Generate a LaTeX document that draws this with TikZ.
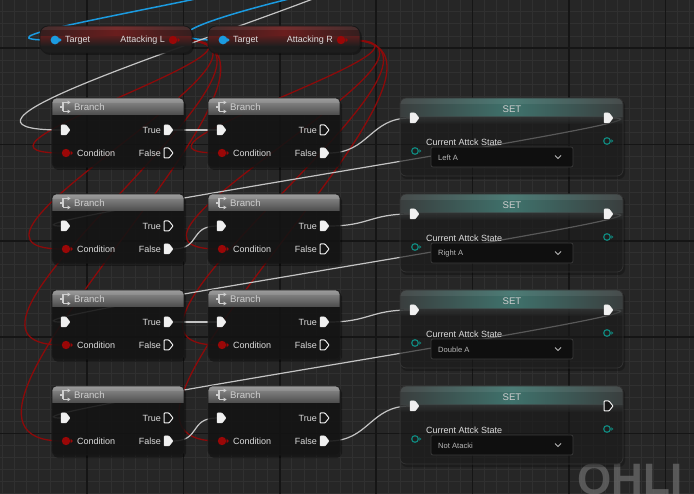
\documentclass[tikz,border=0pt]{standalone}
\usepackage{fontspec}
\setmainfont{Liberation Sans}
\usetikzlibrary{calc}
\definecolor{bgc}{HTML}{262626}
\definecolor{minorc}{HTML}{303030}
\definecolor{majorc}{HTML}{151515}
\definecolor{bodyc}{HTML}{151515}
\definecolor{setbodyc}{HTML}{202020}
\definecolor{hdrtop}{HTML}{929292}
\definecolor{hdrbot}{HTML}{4C4C4C}
\definecolor{redwire}{HTML}{8C0A0A}
\definecolor{boolc}{HTML}{9A0707}
\definecolor{graywire}{HTML}{C4C4C4}
\definecolor{bluewire}{HTML}{1B9BE0}
\definecolor{tealc}{HTML}{10877E}
\definecolor{pinwhite}{HTML}{F0F0F0}
\definecolor{labelc}{HTML}{DCDCDC}
\definecolor{titlec}{HTML}{CFCFCF}
\definecolor{ddfill}{HTML}{0F0F0F}
\definecolor{ddborder}{HTML}{3A3A3A}
\definecolor{ddtext}{HTML}{B8B8B8}
\definecolor{getred}{HTML}{6A1E1E}
\definecolor{getdark}{HTML}{1E1E1E}
\definecolor{tealglow}{HTML}{3F726C}
\definecolor{tealside}{HTML}{3A3E3E}
\definecolor{wmark}{HTML}{6A6A6A}
\pgfdeclarelayer{bg}
\pgfdeclarelayer{wires}
\pgfsetlayers{bg,wires,main}
\tikzset{
  lbl/.style={text=labelc,font=\fontsize{9}{10}\selectfont,inner sep=0pt},
  ttl/.style={text=titlec,font=\fontsize{9.6}{11}\selectfont,inner sep=0pt},
  ddtxt/.style={text=ddtext,font=\fontsize{7.6}{9}\selectfont,inner sep=0pt},
  execon/.style={fill=pinwhite,draw=pinwhite,line width=0.5pt,rounded corners=0.8pt},
  execoff/.style={draw=pinwhite,line width=1pt,fill=bodyc,rounded corners=0.8pt},
  redw/.style={draw=redwire,line width=1.3pt},
  grayw/.style={draw=graywire,line width=1.2pt},
  bluew/.style={draw=bluewire,line width=1.5pt},
  nodeedge/.style={draw=black!90,line width=0.8pt,rounded corners=4pt},
}
\newcommand\ExecPin[3]{\draw[#3,shift={(#1,#2)}] (-4,-5) -- (1,-5) -- (5,0) -- (1,5) -- (-4,5) -- cycle;}
\newcommand\BoolPin[2]{\fill[boolc,shift={(#1,#2)}] (0,0) circle (4.2) (4.6,-2.2) -- (7,0) -- (4.6,2.2) -- cycle;}
\newcommand\TealPin[2]{\draw[tealc,line width=1.2pt,shift={(#1,#2)}] (0,0) circle (3.3); \fill[tealc,shift={(#1,#2)}] (4.3,-1.8) -- (6.3,0) -- (4.3,1.8) -- cycle;}
% Branch node: name, left, top, true style, false style
\newcommand\BranchNode[5]{%
\begin{scope}[shift={(#2,#3)}]
  \fill[black,opacity=0.35,rounded corners=5pt] (1,2) rectangle (134,72);
  \node[fill=bodyc,fill opacity=0.84,rounded corners=4pt,minimum width=132pt,minimum height=69pt,inner sep=0pt] (#1) at (66,34.5) {};
  \begin{scope}
    \clip[rounded corners=4pt] (0,0) rectangle (132,69);
    \shade[top color=hdrtop,bottom color=hdrbot] (0,0) rectangle (132,17);
    \fill[white,opacity=0.10] (0,0) rectangle (132,5);
  \end{scope}
  \draw[nodeedge] (0,0) rectangle (132,69);
  % branch icon
  \draw[titlec,line width=1.1pt] (8,9) -- (11,9) (11,4.5) -- (11,13.5) (11,4.5) -- (16,4.5) (11,13.5) -- (16,13.5);
  \fill[titlec] (15.5,2.5) -- (18.5,4.5) -- (15.5,6.5) -- cycle (15.5,11.5) -- (18.5,13.5) -- (15.5,15.5) -- cycle;
  \node[ttl,anchor=west] at (22,9.2) {Branch};
  \ExecPin{13}{32}{execon}
  \BoolPin{14}{55}
  \node[lbl,anchor=west] at (25,55.3) {Condition};
  \node[lbl,anchor=east] at (109,32.3) {True};
  \node[lbl,anchor=east] at (109,55.3) {False};
  \ExecPin{116}{32}{#4}
  \ExecPin{116}{55}{#5}
  \coordinate (#1-in) at (9,32);
  \coordinate (#1-cond) at (10,55);
  \coordinate (#1-t) at (121,32);
  \coordinate (#1-f) at (121,55);
\end{scope}}
% SET node: name, top, value, out style
\newcommand\SetNode[4]{%
\begin{scope}[shift={(400,#2)}]
  \fill[black,opacity=0.25,rounded corners=6pt] (1,2) rectangle (225,81);
  \node[fill=setbodyc,fill opacity=0.5,rounded corners=6pt,minimum width=223pt,minimum height=78pt,inner sep=0pt] (#1) at (111.5,39) {};
  \begin{scope}
    \clip[rounded corners=6pt] (0,0) rectangle (223,78);
    \shade[left color=tealside,right color=tealside,middle color=tealglow] (0,0) rectangle (223,19);
    \shade[top color=tealside,bottom color=setbodyc,opacity=0.6] (0,19) rectangle (223,26);
    \fill[white,opacity=0.07] (0,0) rectangle (223,6);
  \end{scope}
  \draw[nodeedge,rounded corners=6pt,draw=black!80] (0,0) rectangle (223,78);
  \node[ttl,anchor=center] at (112,11) {SET};
  \ExecPin{14}{20}{execon}
  \ExecPin{208}{20}{#4}
  \node[lbl,anchor=west] at (26,44.5) {Current Attck State};
  \TealPin{15}{53}
  \TealPin{207}{43}
  \draw[fill=ddfill,draw=ddborder,line width=0.7pt,rounded corners=2pt] (31,49) rectangle (173,69);
  \node[ddtxt,anchor=west] at (38,59.3) {#3};
  \draw[ddtext,line width=0.9pt] (155,57.5) -- (158,60.5) -- (161,57.5);
  \coordinate (#1-in) at (10,20);
  \coordinate (#1-out) at (213,20);
\end{scope}}
% Getter node: name, left, label
\newcommand\GetNode[3]{%
\begin{scope}[shift={(#2,26)}]
  \fill[black,opacity=0.35,rounded corners=9pt] (1,2) rectangle (154,29);
  \node[fill=getdark,fill opacity=0.92,rounded corners=8pt,minimum width=152pt,minimum height=27pt,inner sep=0pt] (#1) at (76,13.5) {};
  \begin{scope}
    \clip[rounded corners=8pt] (0,0) rectangle (152,27);
    \shade[left color=getdark!70!getred,right color=getdark!70!getred,middle color=getred] (0,0) rectangle (152,11);
    \shade[top color=getred!70!getdark,bottom color=getdark] (0,11) rectangle (152,20);
    \fill[white,opacity=0.07] (0,0) rectangle (152,4);
  \end{scope}
  \draw[nodeedge,rounded corners=8pt] (0,0) rectangle (152,27);
  \fill[bluewire] (15,14) circle (4.4) (19.4,-2.2+14) -- (21.6,14) -- (19.4,2.2+14) -- cycle;
  \node[lbl,anchor=west] at (25,14.3) {Target};
  \node[lbl,anchor=east] at (125,14.3) {#3};
  \BoolPin{133}{14}
  \coordinate (#1-tgt) at (10,14);
  \coordinate (#1-out) at (140,14);
\end{scope}}
\begin{document}
\begin{tikzpicture}[x=1pt,y=-1pt]
\useasboundingbox (0,0) rectangle (694,494);
\begin{pgfonlayer}{bg}
  \fill[bgc] (0,0) rectangle (694,494);
  \foreach \i in {-1,...,58} {\draw[minorc,line width=0.8pt] (14.7+\i*12.05,0) -- (14.7+\i*12.05,494);}
  \foreach \i in {-1,...,42} {\draw[minorc,line width=0.8pt] (0,11.85+\i*12.05) -- (694,11.85+\i*12.05);}
  \foreach \i in {-1,...,7} {\draw[majorc,line width=1.6pt] (87+\i*96.4,0) -- (87+\i*96.4,494);}
  \foreach \i in {-1,...,5} {\draw[majorc,line width=1.6pt] (0,48+\i*96.4) -- (694,48+\i*96.4);}
  \begin{scope}
    \clip (0,0) rectangle (694,494);
    \node[anchor=base west,inner sep=0pt,text=wmark,text opacity=0.75,font=\fontsize{44}{44}\bfseries\selectfont] (wm) at (577,494.5) {OHLI};
  \end{scope}
\end{pgfonlayer}

\GetNode{getL}{40}{Attacking L}
\GetNode{getR}{208}{Attacking R}

\BranchNode{b1a}{52}{98}{execon}{execoff}
\BranchNode{b1b}{208}{98}{execoff}{execon}
\BranchNode{b2a}{52}{194}{execoff}{execon}
\BranchNode{b2b}{208}{194}{execon}{execoff}
\BranchNode{b3a}{52}{290}{execon}{execoff}
\BranchNode{b3b}{208}{290}{execon}{execoff}
\BranchNode{b4a}{52}{386}{execoff}{execon}
\BranchNode{b4b}{208}{386}{execoff}{execon}

\SetNode{s1}{98}{Left A}{execon}
\SetNode{s2}{194}{Right A}{execon}
\SetNode{s3}{290}{Double A}{execon}
\SetNode{s4}{386}{Not Atacki}{execoff}

\coordinate (blueA) at (205,-3);
\coordinate (blueB) at (297,-3);
\coordinate (grayTop) at (318,-3);

\begin{pgfonlayer}{wires}
  % blue object wires
  \draw[bluew] (blueA) .. controls (95,20) and (-20,40) .. (getL-tgt);
  \draw[bluew] (blueB) .. controls (235,12) and (135,40) .. (getR-tgt);
  % red condition wires
  \draw[redw] (getL-out) .. controls +(135,0) and +(-135,0) .. (b1a-cond);
  \draw[redw] (getL-out) .. controls +(150,0) and +(-150,0) .. (b2a-cond);
  \draw[redw] (getL-out) .. controls +(165,0) and +(-165,0) .. (b3a-cond);
  \draw[redw] (getL-out) .. controls +(178,0) and +(-178,0) .. (b4a-cond);
  \draw[redw] (getR-out) .. controls +(130,0) and +(-130,0) .. (b1b-cond);
  \draw[redw] (getR-out) .. controls +(148,0) and +(-148,0) .. (b2b-cond);
  \draw[redw] (getR-out) .. controls +(162,0) and +(-162,0) .. (b3b-cond);
  \draw[redw] (getR-out) .. controls +(175,0) and +(-175,0) .. (b4b-cond);
  % exec wires
  \draw[grayw] (grayTop) .. controls (180,50) and (-80,130) .. (b1a-in);
  \draw[grayw] (b1a-t) -- (b1b-in);
  \draw[grayw] (b1b-f) .. controls +(40,0) and +(-40,0) .. (s1-in);
  \draw[grayw] (s1-out) .. controls +(90,0) and +(-90,0) .. (b2a-in);
  \draw[grayw] (b2a-f) .. controls +(28,0) and +(-28,0) .. (b2b-in);
  \draw[grayw] (b2b-t) .. controls +(40,0) and +(-40,0) .. (s2-in);
  \draw[grayw] (s2-out) .. controls +(90,0) and +(-90,0) .. (b3a-in);
  \draw[grayw] (b3a-t) -- (b3b-in);
  \draw[grayw] (b3b-t) .. controls +(40,0) and +(-40,0) .. (s3-in);
  \draw[grayw] (s3-out) .. controls +(90,0) and +(-90,0) .. (b4a-in);
  \draw[grayw] (b4a-f) .. controls +(28,0) and +(-28,0) .. (b4b-in);
  \draw[grayw] (b4b-f) .. controls +(40,0) and +(-40,0) .. (s4-in);
\end{pgfonlayer}
\end{tikzpicture}
\end{document}
